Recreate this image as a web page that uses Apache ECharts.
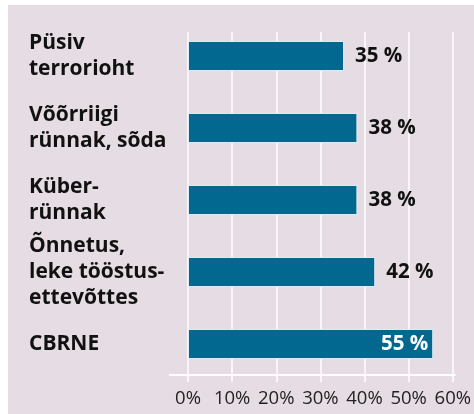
<!DOCTYPE html>
<html>
<head>
<meta charset="utf-8">
<script src="https://cdn.jsdelivr.net/npm/echarts@6/dist/echarts.min.js"></script>
<style>
html,body{margin:0;padding:0;background:#fff;}
#wrap{position:relative;width:474px;height:414px;overflow:hidden;}
#panel{position:absolute;left:8px;top:5px;right:0;bottom:0;background:#e6dce4;}
#chart{position:absolute;left:0;top:0;width:474px;height:414px;}
</style>
</head>
<body>
<div id="wrap"><div id="panel"></div><div id="chart"></div></div>
<script>
var categories = ['Püsiv\nterrorioht', 'Võõrriigi\nrünnak, sõda', 'Küber-\nrünnak', 'Õnnetus,\nleke tööstus-\nettevõttes', 'CBRNE'];
var values = [35, 38, 38, 42, 55];
var ticks = [0, 10, 20, 30, 40, 50, 60];

var font = '"Open Sans", "Noto Sans", sans-serif';
var barColor = '#03688f';

function getSeriesData(vals){
	var arr = [];
	for(var i = 0; i < vals.length; i++){
		var inside = vals[i] >= 50;
		arr.push({
			value: vals[i],
			label: inside ? {position: 'insideRight', color: '#fff', distance: 5} : {position: 'right', color: '#111', distance: 11}
		});
	}
	return arr;
}

var myChart = echarts.init(document.getElementById('chart'), null, {renderer: 'canvas'});
var option = {
	animation: false,
	textStyle: {fontFamily: font},
	grid: [
		{left: 188, right: 18.5, top: 32, bottom: 39},
		{left: 188, right: 18.5, top: 20, bottom: 34}
	],
	xAxis: [
		{
			gridIndex: 0, type: 'value', min: ticks[0], max: ticks[ticks.length - 1], interval: 10,
			axisLine: {show: false},
			axisTick: {show: true, length: 7, lineStyle: {color: '#fff', width: 1.5}},
			splitLine: {show: true, lineStyle: {color: '#fff', width: 1.5}},
			axisLabel: {formatter: '{value}%', color: '#222', fontSize: 18.5, margin: 14, fontFamily: font}
		},
		{
			gridIndex: 1, type: 'value', min: ticks[0], max: ticks[ticks.length - 1], interval: 10,
			show: false
		}
	],
	yAxis: [
		{gridIndex: 0, type: 'value', show: false},
		{
			gridIndex: 1, type: 'category', data: categories, inverse: true,
			axisLine: {show: false}, axisTick: {show: false}, splitLine: {show: false},
			axisLabel: {
				align: 'left', margin: 159, color: '#111', fontSize: 21, fontWeight: 'bold',
				lineHeight: 26, fontFamily: font
			}
		}
	],
	graphic: [{
		type: 'line', z: 1,
		shape: {x1: 169, y1: 375, x2: 455.5, y2: 375},
		style: {stroke: '#fff', lineWidth: 2}
	}],
	series: [{
		type: 'bar', xAxisIndex: 1, yAxisIndex: 1,
		data: getSeriesData(values),
		barWidth: 30,
		itemStyle: {color: barColor, borderColor: '#dcecf2', borderWidth: 1},
		label: {show: true, formatter: '{c} %', fontSize: 20.5, fontWeight: 'bold', fontFamily: font},
		z: 3
	}]
};
myChart.setOption(option);
</script>
</body>
</html>
